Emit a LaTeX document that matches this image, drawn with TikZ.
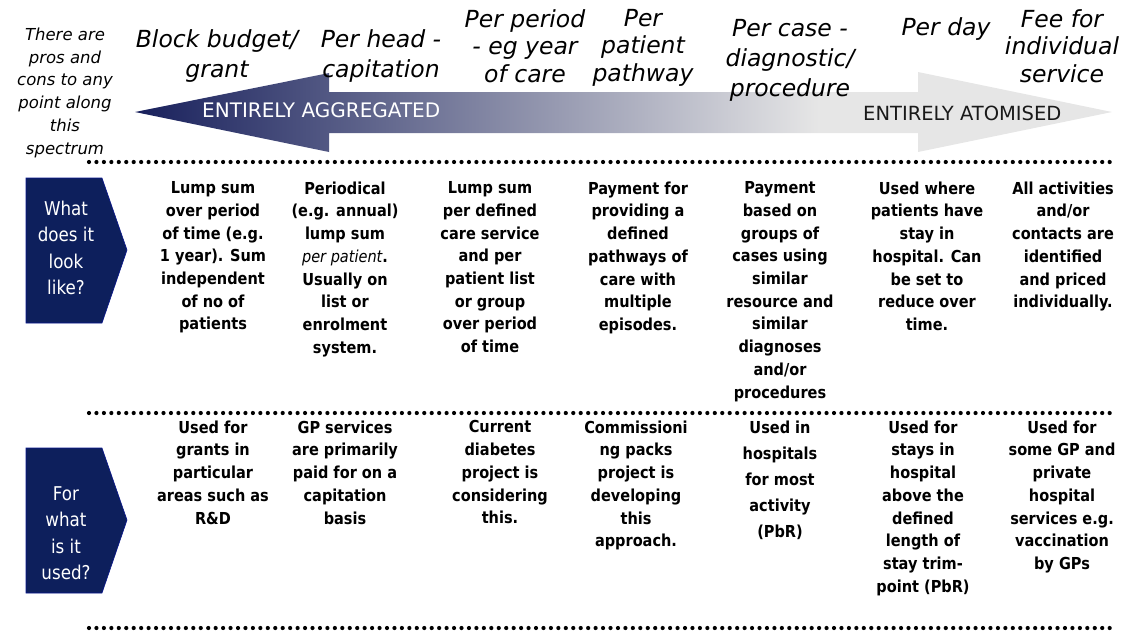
\documentclass[tikz,border=0pt]{standalone}
\usepackage{fontspec}
\newfontfamily\bodyfont[FakeStretch=0.88]{DejaVu Sans}
\newfontfamily\obfont{DejaVu Sans}
\definecolor{navy}{RGB}{13,31,92}
\definecolor{arrL}{RGB}{24,32,92}
\definecolor{arrR}{RGB}{230,230,230}
\pgfdeclarehorizontalshading{spectrum}{100bp}{color(0bp)=(arrL); color(25bp)=(arrL); color(60bp)=(arrR); color(100bp)=(arrR)}
\tikzset{
  body/.style={font=\bodyfont\bfseries\fontsize{16.5}{22.7}\selectfont, align=center, anchor=north, inner sep=0pt},
  bodywide/.style={body, font=\bodyfont\bfseries\fontsize{16.5}{26}\selectfont},
  rowbox/.style={fill=navy, draw=navy!70!blue, line width=0.6pt},
  rowtext/.style={font=\bodyfont\fontsize{19}{26.5}\selectfont, text=white, align=center, inner sep=0pt},
  toplabel/.style={font=\obfont\itshape\fontsize{23.5}{30}\selectfont, align=center, inner sep=0pt, anchor=north},
  toplabeltight/.style={toplabel, font=\obfont\itshape\fontsize{23.5}{27.5}\selectfont},
  sidenote/.style={font=\obfont\itshape\fontsize{16.5}{22.8}\selectfont, align=center, inner sep=0pt, anchor=north},
  bandtext/.style={font=\obfont\fontsize{20}{24}\selectfont, anchor=base west, inner sep=0pt},
  dotline/.style={line width=4.2pt, line cap=round, dash pattern=on 0pt off 7.45pt},
}
\begin{document}
\begin{tikzpicture}[x=1pt,y=-1pt]
\useasboundingbox (0,0) rectangle (1131,633);
% spectrum arrow
\path[shading=spectrum] (135,112) -- (329,73) -- (329,92) -- (918,92) -- (918,72) -- (1112,112) -- (918,152) -- (918,133) -- (329,133) -- (329,152) -- cycle;
\node[bandtext, text=white] (agg) at (202,117) {ENTIRELY AGGREGATED};
\node[bandtext, text=black!90, font=\obfont\fontsize{19.5}{24}\selectfont] (atom) at (863,120) {ENTIRELY ATOMISED};
% side note
\node[sidenote] (note) at (65,27.5) {There are\\pros and\\cons to any\\point along\\this\\spectrum};
% top labels
\node[toplabel] (block) at (217,29) {Block budget/\\grant};
\node[toplabel] (head) at (381,29) {Per head -\\capitation};
\node[toplabeltight] (period) at (525,9) {Per period\\- eg year\\of care};
\node[toplabeltight] (pathway) at (643,9) {Per\\patient\\pathway};
\node[toplabel] (case) at (790,19) {Per case -\\diagnostic/\\procedure};
\node[toplabel] (day) at (946,17) {Per day};
\node[toplabeltight] (fee) at (1062,9) {Fee for\\individual\\service};
% dotted lines
\coordinate (d1a) at (89,162); \coordinate (d1b) at (1112,162);
\coordinate (d2a) at (89,413); \coordinate (d2b) at (1112,413);
\coordinate (d3a) at (89,628); \coordinate (d3b) at (1112,628);
\draw[dotline] (d1a) -- (d1b);
\draw[dotline] (d2a) -- (d2b);
\draw[dotline] (d3a) -- (d3b);
% row boxes
\draw[rowbox] (26,178) -- (102,178) -- (127,250) -- (102,323) -- (26,323) -- cycle;
\node[rowtext] (q1) at (66,248) {What\\does it\\look\\like?};
\draw[rowbox] (26,448) -- (102,448) -- (127,520) -- (102,593) -- (26,593) -- cycle;
\node[rowtext] (q2) at (66,533) {For\\what\\is it\\used?};
% row 1
\node[body] (r1c1) at (213,181.5) {Lump sum\\over period\\of time (e.g.\\1 year). Sum\\independent\\of no of\\patients};
\node[body] (r1c2) at (345,181.5) {Periodical\\(e.g. annual)\\lump sum\\{\mdseries\itshape per patient}.\\Usually on\\list or\\enrolment\\system.};
\node[body] (r1c3) at (490,181.5) {Lump sum\\per defined\\care service\\and per\\patient list\\or group\\over period\\of time};
\node[body] (r1c4) at (638,181.5) {Payment for\\providing a\\defined\\pathways of\\care with\\multiple\\episodes.};
\node[body] (r1c5) at (780,181.5) {Payment\\based on\\groups of\\cases using\\similar\\resource and\\similar\\diagnoses\\and/or\\procedures};
\node[body] (r1c6) at (927,181.5) {Used where\\patients have\\stay in\\hospital. Can\\be set to\\reduce over\\time.};
\node[body] (r1c7) at (1063,181.5) {All activities\\and/or\\contacts are\\identified\\and priced\\individually.};
% row 2
\node[body] (r2c1) at (213,420.5) {Used for\\grants in\\particular\\areas such as\\R\&D};
\node[body] (r2c2) at (345,420.5) {GP services\\are primarily\\paid for on a\\capitation\\basis};
\node[body] (r2c3) at (500,420.5) {Current\\diabetes\\project is\\considering\\this.};
\node[body] (r2c4) at (636,420.5) {Commissioni\\ng packs\\project is\\developing\\this\\approach.};
\node[bodywide] (r2c5) at (780,420.5) {Used in\\hospitals\\for most\\activity\\(PbR)};
\node[body] (r2c6) at (923,420.5) {Used for\\stays in\\hospital\\above the\\defined\\length of\\stay trim-\\point (PbR)};
\node[body] (r2c7) at (1062,420.5) {Used for\\some GP and\\private\\hospital\\services e.g.\\vaccination\\by GPs};
\end{tikzpicture}
\end{document}
